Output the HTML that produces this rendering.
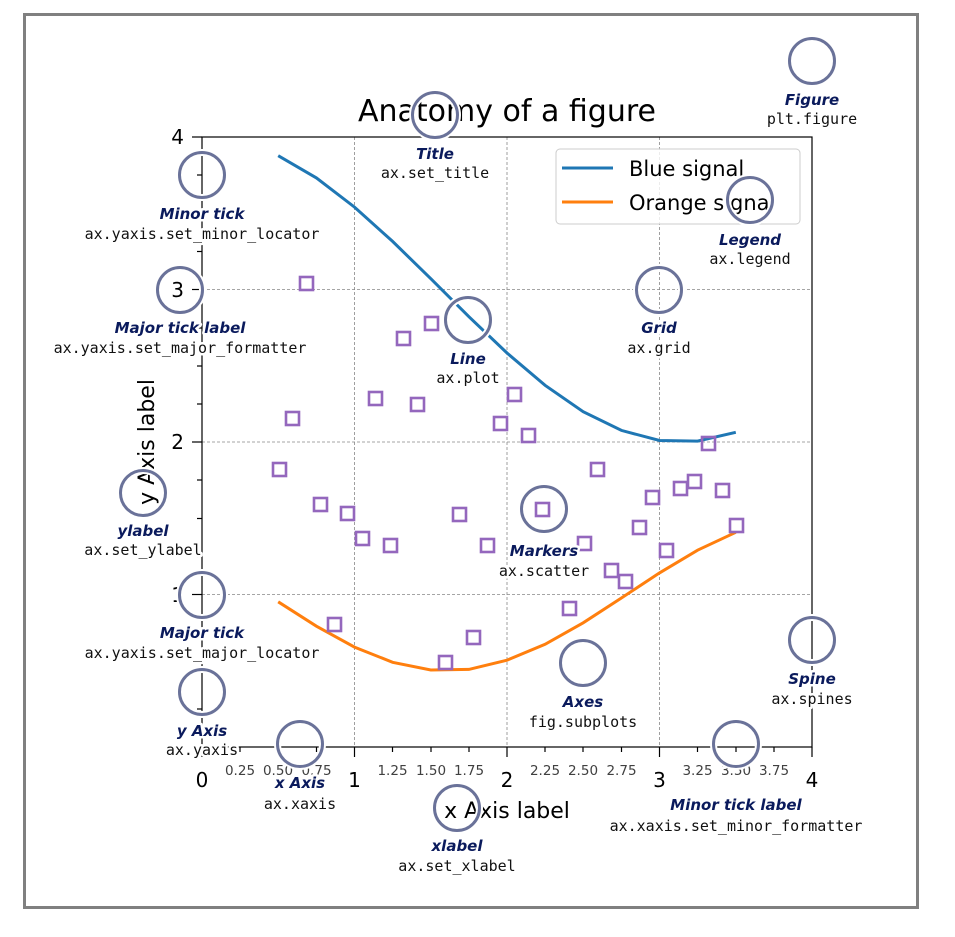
<!DOCTYPE html>
<html><head><meta charset="utf-8"><style>
body{margin:0;background:#fff}
svg{display:block}
.lab{font-family:"DejaVu Sans",sans-serif;font-weight:bold;font-style:italic;font-size:15px;fill:#0a1a5c;text-anchor:middle;stroke:#fff;stroke-width:5;paint-order:stroke;stroke-linejoin:round}
.code{font-family:"DejaVu Sans Mono","Liberation Mono",monospace;font-size:15px;fill:#111;text-anchor:middle;stroke:#fff;stroke-width:5;paint-order:stroke;stroke-linejoin:round}
.mn{font-family:"DejaVu Sans",sans-serif;font-size:13.5px;fill:#404040;text-anchor:middle}
.mj{font-family:"DejaVu Sans",sans-serif;font-size:20px;fill:#000}
</style></head><body>
<svg width="955" height="937" viewBox="0 0 955 937" xmlns="http://www.w3.org/2000/svg">
<rect x="0" y="0" width="955" height="937" fill="#fff"/>
<rect x="24.5" y="14.5" width="893" height="893" fill="#fff" stroke="#808080" stroke-width="3"/>
<!-- grid -->
<g stroke="#888" stroke-width="0.8" stroke-dasharray="3,2">
<line x1="354.5" y1="137" x2="354.5" y2="747"/><line x1="507" y1="137" x2="507" y2="747"/><line x1="659.5" y1="137" x2="659.5" y2="747"/>
<line x1="202" y1="594.5" x2="812" y2="594.5"/><line x1="202" y1="442" x2="812" y2="442"/><line x1="202" y1="289.5" x2="812" y2="289.5"/>
</g>
<!-- spines -->
<rect x="202" y="137" width="610" height="610" fill="none" stroke="#000" stroke-width="1.2"/>
<!-- ticks -->
<g stroke="#000" stroke-width="1.2">
<line x1="192" y1="137" x2="202" y2="137"/><line x1="192" y1="289.5" x2="202" y2="289.5"/><line x1="192" y1="442" x2="202" y2="442"/><line x1="192" y1="594.5" x2="202" y2="594.5"/><line x1="192" y1="747" x2="202" y2="747"/>
<line x1="197" y1="175" x2="202" y2="175"/><line x1="197" y1="213" x2="202" y2="213"/><line x1="197" y1="251.5" x2="202" y2="251.5"/>
<line x1="197" y1="328" x2="202" y2="328"/><line x1="197" y1="366" x2="202" y2="366"/><line x1="197" y1="404" x2="202" y2="404"/>
<line x1="197" y1="480" x2="202" y2="480"/><line x1="197" y1="518.5" x2="202" y2="518.5"/><line x1="197" y1="556.5" x2="202" y2="556.5"/>
<line x1="197" y1="633" x2="202" y2="633"/><line x1="197" y1="671" x2="202" y2="671"/><line x1="197" y1="709" x2="202" y2="709"/>
<line x1="202" y1="747" x2="202" y2="757"/><line x1="354.5" y1="747" x2="354.5" y2="757"/><line x1="507" y1="747" x2="507" y2="757"/><line x1="659.5" y1="747" x2="659.5" y2="757"/><line x1="812" y1="747" x2="812" y2="757"/>
<line x1="240" y1="747" x2="240" y2="752"/><line x1="278" y1="747" x2="278" y2="752"/><line x1="316.5" y1="747" x2="316.5" y2="752"/>
<line x1="392.5" y1="747" x2="392.5" y2="752"/><line x1="431" y1="747" x2="431" y2="752"/><line x1="469" y1="747" x2="469" y2="752"/>
<line x1="545" y1="747" x2="545" y2="752"/><line x1="583" y1="747" x2="583" y2="752"/><line x1="621.5" y1="747" x2="621.5" y2="752"/>
<line x1="697.5" y1="747" x2="697.5" y2="752"/><line x1="736" y1="747" x2="736" y2="752"/><line x1="774" y1="747" x2="774" y2="752"/>
</g>
<!-- tick labels -->
<g class="mj" text-anchor="end">
<text x="184" y="144">4</text><text x="184" y="297">3</text><text x="184" y="449">2</text><text x="184" y="602">1</text>
</g>
<g class="mj" text-anchor="middle">
<text x="202" y="787">0</text><text x="354.5" y="787">1</text><text x="507" y="787">2</text><text x="659.5" y="787">3</text><text x="812" y="787">4</text>
</g>
<g class="mn">
<text x="240" y="775">0.25</text><text x="278" y="775">0.50</text><text x="316.5" y="775">0.75</text>
<text x="392.5" y="775">1.25</text><text x="431" y="775">1.50</text><text x="469" y="775">1.75</text>
<text x="545" y="775">2.25</text><text x="583" y="775">2.50</text><text x="621.5" y="775">2.75</text>
<text x="697.5" y="775">3.25</text><text x="736" y="775">3.50</text><text x="774" y="775">3.75</text>
</g>
<!-- lines -->
<polyline fill="none" stroke="#1f77b4" stroke-width="3" points="278.2,155.7 316.4,177.9 354.5,207.1 392.6,241.4 430.8,278.7 468.9,316.7 507,353 545.1,385.3 583.2,411.7 621.4,430.4 659.5,440.5 697.6,441.1 735.8,432.3"/>
<polyline fill="none" stroke="#ff7f0e" stroke-width="3" points="278.2,601.8 316.4,626.2 354.5,647.1 392.6,662.3 430.8,670 468.9,669.4 507,660.2 545.1,644.3 583.2,622.8 621.4,598 659.5,572.9 697.6,550.2 735.8,532.3"/>
<!-- markers -->
<g fill="none" stroke="#9467bd" stroke-width="2.6">
<rect x="300" y="277" width="13" height="13"/><rect x="286" y="412" width="13" height="13"/><rect x="273" y="463" width="13" height="13"/><rect x="314" y="498" width="13" height="13"/><rect x="341" y="507" width="13" height="13"/><rect x="356" y="532" width="13" height="13"/><rect x="384" y="539" width="13" height="13"/><rect x="328" y="618" width="13" height="13"/><rect x="397" y="332" width="13" height="13"/><rect x="425" y="317" width="13" height="13"/><rect x="369" y="392" width="13" height="13"/><rect x="411" y="398" width="13" height="13"/><rect x="453" y="508" width="13" height="13"/><rect x="481" y="539" width="13" height="13"/><rect x="439" y="656" width="13" height="13"/><rect x="467" y="631" width="13" height="13"/><rect x="508" y="388" width="13" height="13"/><rect x="494" y="417" width="13" height="13"/><rect x="522" y="429" width="13" height="13"/><rect x="536" y="503" width="13" height="13"/><rect x="578" y="537" width="13" height="13"/><rect x="591" y="463" width="13" height="13"/><rect x="563" y="602" width="13" height="13"/><rect x="605" y="564" width="13" height="13"/><rect x="619" y="575" width="13" height="13"/><rect x="633" y="521" width="13" height="13"/><rect x="646" y="491" width="13" height="13"/><rect x="660" y="544" width="13" height="13"/><rect x="674" y="482" width="13" height="13"/><rect x="688" y="475" width="13" height="13"/><rect x="702" y="437" width="13" height="13"/><rect x="716" y="484" width="13" height="13"/><rect x="730" y="519" width="13" height="13"/>
</g>
<!-- legend -->
<rect x="556" y="149" width="244" height="75" rx="4" fill="#fff" fill-opacity="0.8" stroke="#ccc" stroke-width="1"/>
<line x1="562" y1="168" x2="613" y2="168" stroke="#1f77b4" stroke-width="3"/>
<line x1="562" y1="202" x2="613" y2="202" stroke="#ff7f0e" stroke-width="3"/>
<text x="629" y="176" font-family="DejaVu Sans,sans-serif" font-size="21">Blue signal</text>
<text x="629" y="210" font-family="DejaVu Sans,sans-serif" font-size="21">Orange signal</text>
<!-- title & axis labels -->
<text x="507" y="121" font-family="DejaVu Sans,sans-serif" font-size="30" text-anchor="middle">Anatomy of a figure</text>
<text x="507" y="818" font-family="DejaVu Sans,sans-serif" font-size="22" text-anchor="middle">x Axis label</text>
<text transform="translate(154,442) rotate(-90)" font-family="DejaVu Sans,sans-serif" font-size="22" text-anchor="middle">y Axis label</text>
<!-- annotation circles -->
<g fill="none">
<g stroke="#fff" stroke-width="7">
<circle cx="812" cy="61" r="22.5"/><circle cx="435" cy="115" r="22.5"/><circle cx="202" cy="175" r="22.5"/><circle cx="750" cy="200" r="22.5"/><circle cx="180" cy="290" r="22.5"/><circle cx="659" cy="290" r="22.5"/><circle cx="468" cy="320" r="22.5"/><circle cx="143" cy="493" r="22.5"/><circle cx="544" cy="509" r="22.5"/><circle cx="202" cy="595" r="22.5"/><circle cx="812" cy="640" r="22.5"/><circle cx="583" cy="663" r="22.5"/><circle cx="202" cy="692" r="22.5"/><circle cx="300" cy="744" r="22.5"/><circle cx="736" cy="744" r="22.5"/><circle cx="457" cy="808" r="22.5"/>
</g>
<g stroke="#6a7299" stroke-width="3">
<circle cx="812" cy="61" r="22.5"/><circle cx="435" cy="115" r="22.5"/><circle cx="202" cy="175" r="22.5"/><circle cx="750" cy="200" r="22.5"/><circle cx="180" cy="290" r="22.5"/><circle cx="659" cy="290" r="22.5"/><circle cx="468" cy="320" r="22.5"/><circle cx="143" cy="493" r="22.5"/><circle cx="544" cy="509" r="22.5"/><circle cx="202" cy="595" r="22.5"/><circle cx="812" cy="640" r="22.5"/><circle cx="583" cy="663" r="22.5"/><circle cx="202" cy="692" r="22.5"/><circle cx="300" cy="744" r="22.5"/><circle cx="736" cy="744" r="22.5"/><circle cx="457" cy="808" r="22.5"/>
</g>
</g>
<!-- annotation labels -->
<text class="lab" x="812" y="105">Figure</text><text class="code" x="812" y="124">plt.figure</text>
<text class="lab" x="435" y="159">Title</text><text class="code" x="435" y="178">ax.set_title</text>
<text class="lab" x="202" y="219">Minor tick</text><text class="code" x="202" y="239">ax.yaxis.set_minor_locator</text>
<text class="lab" x="750" y="245">Legend</text><text class="code" x="750" y="264">ax.legend</text>
<text class="lab" x="180" y="333">Major tick label</text><text class="code" x="180" y="353">ax.yaxis.set_major_formatter</text>
<text class="lab" x="659" y="333">Grid</text><text class="code" x="659" y="353">ax.grid</text>
<text class="lab" x="468" y="364">Line</text><text class="code" x="468" y="383">ax.plot</text>
<text class="lab" x="143" y="536">ylabel</text><text class="code" x="143" y="555">ax.set_ylabel</text>
<text class="lab" x="544" y="556">Markers</text><text class="code" x="544" y="576">ax.scatter</text>
<text class="lab" x="202" y="638">Major tick</text><text class="code" x="202" y="658">ax.yaxis.set_major_locator</text>
<text class="lab" x="812" y="684">Spine</text><text class="code" x="812" y="704">ax.spines</text>
<text class="lab" x="583" y="707">Axes</text><text class="code" x="583" y="727">fig.subplots</text>
<text class="lab" x="202" y="736">y Axis</text><text class="code" x="202" y="755">ax.yaxis</text>
<text class="lab" x="300" y="788">x Axis</text><text class="code" x="300" y="809">ax.xaxis</text>
<text class="lab" x="736" y="810">Minor tick label</text><text class="code" x="736" y="831">ax.xaxis.set_minor_formatter</text>
<text class="lab" x="457" y="851">xlabel</text><text class="code" x="457" y="871">ax.set_xlabel</text>
</svg>
</body></html>
